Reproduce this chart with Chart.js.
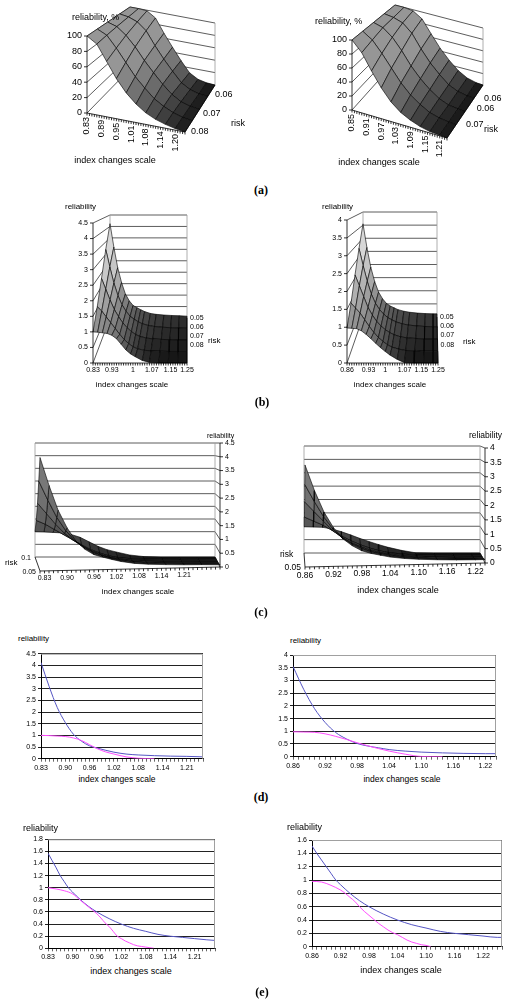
<!DOCTYPE html>
<html>
<head>
<meta charset="utf-8">
<title>reliability vs index changes scale</title>
<script src="https://cdn.jsdelivr.net/npm/chart.js@4.4.1/dist/chart.umd.min.js"></script>
<style>
  html, body { margin: 0; padding: 0; background: #fff; }
  body { position: relative; width: 505px; height: 1000px; overflow: hidden; font-family: "Liberation Sans", Arial, sans-serif; }
  canvas { position: absolute; }
  .t { position: absolute; white-space: nowrap; line-height: 1; color: #000; }
  .panel { position: absolute; font: bold 12px "Liberation Serif", "Times New Roman", serif; line-height: 1; transform: translate(-50%, -50%); }
</style>
</head>
<body>
<script>
const FONT = '"Liberation Sans", Arial, sans-serif';

// axis ticks / labels
const pctTicks = [0, 20, 40, 60, 80, 100];
const relTicks45 = [0, 0.5, 1, 1.5, 2, 2.5, 3, 3.5, 4, 4.5];
const relTicks4 = [0, 0.5, 1, 1.5, 2, 2.5, 3, 3.5, 4];
const aLeftX = ['0.83', '0.89', '0.95', '1.01', '1.08', '1.14', '1.20'];
const aRightX = ['0.85', '0.91', '0.97', '1.03', '1.09', '1.15', '1.21'];
const bLeftX = ['0.83', '0.93', '1', '1.07', '1.15', '1.25'];
const bRightX = ['0.86', '0.93', '1', '1.07', '1.15', '1.25'];
const leftX = ['0.83', '0.90', '0.96', '1.02', '1.08', '1.14', '1.21'];
const rightX = ['0.86', '0.92', '0.98', '1.04', '1.10', '1.16', '1.22'];

// (a) reliability, % - one row per risk level, columns = category index
const aLeftIdx = [0, 4, 8, 12, 16, 20, 24, 28, 32, 36, 40];
const aLeftRisk = [0.08, 0.074, 0.068, 0.061, 0.055];
const aLeftR1 = [100, 92, 72, 52, 36, 24, 15, 9, 5, 2, 0];
const aLeftR2 = [100, 94, 79, 62, 45, 32, 20, 12, 6, 2, 0];
const aLeftR3 = [100, 96, 86, 72, 55, 40, 26, 14, 6, 2, 0];
const aLeftR4 = [100, 98, 93, 82, 62, 44, 28, 13, 5, 1, 0];
const aLeftR5 = [100, 100, 99, 90, 68, 48, 29, 12, 4, 1, 0];

const aRightIdx = [0, 4, 8, 12, 16, 20, 24, 28, 32, 36, 39];
const aRightRisk = [0.075, 0.07, 0.065, 0.06, 0.055];
const aRightR1 = [100, 86, 64, 44, 28, 17, 10, 5, 2, 1, 0];
const aRightR2 = [100, 91, 75, 57, 39, 25, 15, 7, 3, 1, 0];
const aRightR3 = [100, 96, 85, 68, 48, 32, 19, 9, 3, 1, 0];
const aRightR4 = [100, 98, 93, 80, 58, 39, 24, 11, 4, 1, 0];
const aRightR5 = [100, 100, 98, 88, 66, 45, 28, 14, 5, 1, 0];

// reliability surfaces used in (b), (c) and (d)
const surfRisk = [0.05, 0.0625, 0.075, 0.0875, 0.1];
const surfLeftIdx = [0, 2, 4, 6, 8, 10, 12, 14, 16, 18, 21, 24, 28, 32, 36, 40];
const surfLeft050 = [4.12, 3.1, 2.2, 1.55, 1.05, 0.75, 0.55, 0.45, 0.36, 0.28, 0.2, 0.16, 0.13, 0.11, 0.1, 0.08];
const surfLeft0625 = [3.2, 2.5, 1.85, 1.35, 0.98, 0.72, 0.52, 0.4, 0.3, 0.22, 0.15, 0.11, 0.08, 0.06, 0.05, 0.04];
const surfLeft075 = [2.3, 1.9, 1.5, 1.15, 0.88, 0.65, 0.47, 0.33, 0.22, 0.15, 0.09, 0.06, 0.04, 0.03, 0.02, 0.02];
const surfLeft0875 = [1.55, 1.4, 1.2, 1.0, 0.8, 0.6, 0.42, 0.28, 0.17, 0.1, 0.05, 0.03, 0.02, 0.01, 0.01, 0.01];
const surfLeft100 = [1.0, 0.99, 0.97, 0.95, 0.89, 0.78, 0.6, 0.42, 0.29, 0.2, 0.08, 0.02, 0, 0, 0, 0];

const surfRightIdx = [0, 2, 4, 6, 8, 10, 12, 14, 16, 18, 21, 24, 28, 32, 36, 38];
const surfRight050 = [3.55, 2.65, 1.9, 1.35, 0.95, 0.7, 0.52, 0.42, 0.35, 0.28, 0.22, 0.18, 0.15, 0.13, 0.12, 0.12];
const surfRight0625 = [2.8, 2.2, 1.65, 1.2, 0.88, 0.66, 0.5, 0.38, 0.3, 0.23, 0.16, 0.12, 0.09, 0.07, 0.06, 0.06];
const surfRight075 = [2.1, 1.75, 1.4, 1.05, 0.8, 0.6, 0.45, 0.33, 0.24, 0.17, 0.1, 0.07, 0.05, 0.03, 0.03, 0.03];
const surfRight0875 = [1.45, 1.3, 1.15, 0.95, 0.75, 0.57, 0.42, 0.3, 0.2, 0.13, 0.07, 0.03, 0.02, 0.01, 0.01, 0.01];
const surfRight100 = [0.98, 0.97, 0.96, 0.9, 0.8, 0.68, 0.55, 0.43, 0.32, 0.22, 0.1, 0.01, 0, 0, 0, 0];

// (e) curves
const eLeftBlueIdx = [0, 1, 2, 3, 4, 5, 6, 8, 10, 12, 15, 18, 21, 24, 27, 30, 33, 36, 39, 41];
const eLeftBlue = [1.57, 1.45, 1.33, 1.2, 1.1, 1.0, 0.93, 0.8, 0.69, 0.6, 0.49, 0.4, 0.33, 0.28, 0.23, 0.2, 0.18, 0.16, 0.14, 0.13];
const eLeftPinkIdx = [0, 2, 4, 6, 8, 10, 12, 13, 14, 15, 16, 17, 18, 19, 20, 21, 22, 23, 24, 25, 26];
const eLeftPink = [1.0, 0.98, 0.95, 0.9, 0.79, 0.68, 0.57, 0.5, 0.42, 0.36, 0.28, 0.2, 0.16, 0.12, 0.09, 0.06, 0.04, 0.03, 0.02, 0.01, 0];
const eRightBlueIdx = [0, 1, 2, 3, 4, 5, 6, 8, 10, 12, 15, 18, 21, 24, 27, 30, 33, 36, 39, 40];
const eRightBlue = [1.51, 1.4, 1.3, 1.2, 1.1, 1.0, 0.93, 0.8, 0.69, 0.6, 0.49, 0.4, 0.33, 0.28, 0.23, 0.2, 0.18, 0.16, 0.14, 0.14];
const eRightPinkIdx = [0, 2, 4, 6, 7, 8, 9, 10, 11, 12, 13, 14, 15, 16, 17, 18, 19, 20, 21, 22, 23, 24, 25];
const eRightPink = [0.98, 0.97, 0.92, 0.85, 0.8, 0.74, 0.68, 0.6, 0.53, 0.47, 0.41, 0.35, 0.3, 0.25, 0.21, 0.18, 0.14, 0.1, 0.07, 0.05, 0.03, 0.02, 0];

Chart.defaults.font.family = FONT;
Chart.defaults.color = '#000';

function addCanvas(left, top, w, h) {
  const c = document.createElement('canvas');
  c.width = w; c.height = h;
  c.style.cssText = `left:${left}px;top:${top}px;width:${w}px;height:${h}px`;
  document.body.appendChild(c);
  return c;
}

function label(text, x, y, size, align) {
  const d = document.createElement('div');
  d.className = 't';
  d.textContent = text;
  d.style.left = x + 'px';
  d.style.top = y + 'px';
  d.style.fontSize = size + 'px';
  d.style.transform = align === 'center' ? 'translate(-50%,-50%)' : 'translateY(-50%)';
  document.body.appendChild(d);
}

function panel(text, x, y) {
  const d = document.createElement('div');
  d.className = 'panel';
  d.textContent = text;
  d.style.left = x + 'px';
  d.style.top = y + 'px';
  document.body.appendChild(d);
}

// darker where the surface is low (dense wires in the original), lighter on the slopes
function shade(v, zmax, top) {
  const g = Math.round(15 + (top - 15) * Math.min(1, 1.25 * Math.sqrt(Math.max(v, 0) / zmax)));
  return `rgb(${g},${g},${g})`;
}

const fmtNum = v => String(+(+v).toFixed(2));

// pseudo 3D surface: floor corners in page px, heights for front/back
function make3D(o) {
  const cv = addCanvas(o.left, o.top, o.w, o.h);
  const loc = p => ({x: p[0] - o.left, y: p[1] - o.top});
  const FL = loc(o.fl), FR = loc(o.fr), BL = loc(o.bl), BR = loc(o.br);
  const zmax = o.zTicks[o.zTicks.length - 1];
  const depth = rk => (rk - o.riskFront) / (o.riskBack - o.riskFront);
  const proj = (i, r, v) => {
    const u = i / o.n;
    const fx = FL.x + (FR.x - FL.x) * u, fy = FL.y + (FR.y - FL.y) * u;
    const bx = BL.x + (BR.x - BL.x) * u, by = BL.y + (BR.y - BL.y) * u;
    const h = o.hf + (o.hb - o.hf) * r;
    return {x: fx + (bx - fx) * r, y: fy + (by - fy) * r - v / zmax * h};
  };

  const rows = o.risks.map((rk, k) => ({r: depth(rk), vals: o.curves[k]})).sort((a, b) => a.r - b.r);
  const cols = [];
  for (let j = 0; j < o.idx.length - 1; j++) cols.push(j);
  if (o.nearRight) cols.reverse();

  // first dataset is painted last, so nearest quads go first
  const datasets = [];
  for (let k = 0; k < rows.length - 1; k++) {
    const A = rows[k], B = rows[k + 1];
    for (const j of cols) {
      const i0 = o.idx[j], i1 = o.idx[j + 1];
      const mean = (A.vals[j] + A.vals[j + 1] + B.vals[j] + B.vals[j + 1]) / 4;
      datasets.push({
        data: [proj(i0, A.r, A.vals[j]), proj(i1, A.r, A.vals[j + 1]), proj(i1, B.r, B.vals[j + 1]),
               proj(i0, B.r, B.vals[j]), proj(i0, A.r, A.vals[j])],
        fill: 'shape',
        backgroundColor: shade(mean, zmax, o.light),
        borderColor: '#000',
        borderWidth: 0.6,
        pointRadius: 0
      });
    }
  }

  const s = o.side === 'left' ? 0 : o.n;   // side wall + value axis
  const sd = o.side === 'left' ? o.n : 0;  // depth axis
  const out = o.side === 'left' ? -1 : 1;
  const riskText = o.riskText || o.riskLabels.map(String);

  const frame3d = {
    id: 'frame3d',
    beforeDatasetsDraw(c) {
      const ctx = c.ctx;
      const P = q => [c.scales.x.getPixelForValue(q.x), c.scales.y.getPixelForValue(q.y)];
      const seg = (a, b) => { ctx.moveTo(...P(a)); ctx.lineTo(...P(b)); };
      ctx.save();
      ctx.lineWidth = 0.8;
      ctx.strokeStyle = '#333';
      ctx.beginPath();
      o.zTicks.forEach(z => { seg(proj(0, 1, z), proj(o.n, 1, z)); seg(proj(s, 0, z), proj(s, 1, z)); });
      ctx.stroke();
      ctx.strokeStyle = '#999';
      ctx.beginPath();
      seg(proj(0, 1, 0), proj(0, 1, zmax));
      seg(proj(o.n, 1, 0), proj(o.n, 1, zmax));
      ctx.stroke();
      ctx.restore();
    },
    afterDatasetsDraw(c) {
      const ctx = c.ctx;
      const P = q => [c.scales.x.getPixelForValue(q.x), c.scales.y.getPixelForValue(q.y)];
      const seg = (a, b) => { ctx.moveTo(...P(a)); ctx.lineTo(...P(b)); };
      ctx.save();
      ctx.strokeStyle = '#000';
      ctx.lineWidth = 0.8;
      ctx.beginPath();
      seg(proj(0, 0, 0), proj(o.n, 0, 0));
      for (let i = 0; i <= o.n; i++) {
        const p = P(proj(i, 0, 0));
        ctx.moveTo(p[0], p[1]); ctx.lineTo(p[0], p[1] + 2.5);
      }
      seg(proj(sd, 0, 0), proj(sd, 1, 0));
      seg(proj(s, 0, 0), proj(s, 0, zmax));
      o.zTicks.forEach(z => {
        const p = P(proj(s, 0, z));
        ctx.moveTo(p[0], p[1]); ctx.lineTo(p[0] + 3 * out, p[1]);
      });
      ctx.stroke();

      ctx.fillStyle = '#000';
      ctx.font = o.fs + 'px ' + FONT;
      ctx.textBaseline = 'middle';
      ctx.textAlign = out < 0 ? 'right' : 'left';
      o.zTicks.forEach(z => {
        const p = P(proj(s, 0, z));
        ctx.fillText(String(z), p[0] + 5 * out, p[1]);
      });
      o.xLabels.forEach((t, k) => {
        const p = P(proj(o.xLabelIdx[k], 0, 0));
        if (o.rotX) {
          ctx.save();
          ctx.translate(p[0], p[1] + 4);
          ctx.rotate(-Math.PI / 2);
          ctx.textAlign = 'right';
          ctx.fillText(t, 0, 0);
          ctx.restore();
        } else {
          ctx.textAlign = 'center';
          ctx.textBaseline = 'top';
          ctx.fillText(t, p[0], p[1] + 4);
          ctx.textBaseline = 'middle';
        }
      });
      ctx.textAlign = out < 0 ? 'left' : 'right';
      o.riskLabels.forEach((rv, k) => {
        const p = P(proj(sd, depth(rv), 0));
        ctx.fillText(riskText[k], p[0] + o.riskDx, p[1] + o.riskDy);
      });
      ctx.restore();
    }
  };

  new Chart(cv, {
    type: 'line',
    data: {datasets},
    options: {
      responsive: false,
      animation: false,
      events: [],
      layout: {padding: 0},
      plugins: {legend: {display: false}, tooltip: {enabled: false}},
      scales: {
        x: {type: 'linear', display: false, min: 0, max: o.w},
        y: {type: 'linear', display: false, min: 0, max: o.h, reverse: true}
      }
    },
    plugins: [frame3d]
  });
}

const plotFrame = {
  id: 'plotFrame',
  afterDraw(c) {
    const a = c.chartArea, ctx = c.ctx;
    ctx.save();
    ctx.strokeStyle = '#a0a0a0';
    ctx.lineWidth = 1;
    ctx.beginPath();
    ctx.moveTo(a.left, a.top + 0.5);
    ctx.lineTo(a.right - 0.5, a.top + 0.5);
    ctx.lineTo(a.right - 0.5, a.bottom);
    ctx.stroke();
    ctx.restore();
  }
};

function make2D(o) {
  const cv = addCanvas(o.left, o.top, o.w, o.h);
  const [l, t, r, b] = o.area;
  const pts = (idx, vals) => idx.map((x, i) => ({x, y: vals[i]}));
  new Chart(cv, {
    type: 'line',
    data: {
      datasets: [
        {data: pts(o.pinkIdx, o.pink), borderColor: '#ff4dff', borderWidth: 1, cubicInterpolationMode: 'monotone', pointRadius: 0},
        {data: pts(o.blueIdx, o.blue), borderColor: '#5555c4', borderWidth: 1, cubicInterpolationMode: 'monotone', pointRadius: 0}
      ]
    },
    options: {
      responsive: false,
      animation: false,
      events: [],
      layout: {padding: {left: 0, top: t - o.top, right: o.left + o.w - r, bottom: 0}},
      plugins: {legend: {display: false}, tooltip: {enabled: false}},
      scales: {
        x: {
          type: 'linear', min: 0, max: o.xmax,
          afterBuildTicks: s => { s.ticks = []; for (let i = 0; i <= o.xmax; i++) s.ticks.push({value: i}); },
          afterFit: s => { s.height = o.top + o.h - b; },
          ticks: {
            autoSkip: false, maxRotation: 0, padding: 2, color: '#000', font: {size: 7, family: FONT},
            callback: v => (v % 6 === 0 && o.xLabels[v / 6]) ? o.xLabels[v / 6] : ''
          },
          grid: {drawOnChartArea: false, tickLength: 3, color: '#000', lineWidth: 0.6},
          border: {color: '#000', width: 1}
        },
        y: {
          min: 0, max: o.ymax,
          afterFit: s => { s.width = l - o.left; },
          ticks: {stepSize: o.ystep, padding: 2, color: '#000', font: {size: 7, family: FONT}, callback: v => fmtNum(v)},
          grid: {color: '#222', lineWidth: 1, tickLength: 3},
          border: {color: '#000', width: 1}
        }
      }
    },
    plugins: [plotFrame]
  });
}

// pink series stops where it reaches zero
const toZero = vals => { const k = vals.indexOf(0); return k < 0 ? vals.length : k + 1; };

// ---- (a) ----
make3D({
  left: 30, top: 0, w: 205, h: 172,
  fl: [87, 113], fr: [185, 132], bl: [130, 69], br: [215, 85], hf: 77, hb: 62, n: 40,
  zTicks: pctTicks, side: 'left', nearRight: true, light: 150,
  idx: aLeftIdx, risks: aLeftRisk, curves: [aLeftR1, aLeftR2, aLeftR3, aLeftR4, aLeftR5],
  riskFront: 0.08, riskBack: 0.055, riskLabels: [0.06, 0.07, 0.08], riskDx: 6, riskDy: 0,
  xLabels: aLeftX, xLabelIdx: [0, 6, 12, 18, 24, 30, 36], rotX: true, fs: 9
});
make3D({
  left: 300, top: 0, w: 205, h: 172,
  fl: [352, 110], fr: [447, 138], bl: [395, 62], br: [483, 85], hf: 70, hb: 57, n: 39,
  zTicks: pctTicks, side: 'left', nearRight: true, light: 150,
  idx: aRightIdx, risks: aRightRisk, curves: [aRightR1, aRightR2, aRightR3, aRightR4, aRightR5],
  riskFront: 0.075, riskBack: 0.055, riskLabels: [0.06, 0.064, 0.07], riskText: ['0.06', '0.06', '0.07'],
  riskDx: 10, riskDy: 0,
  xLabels: aRightX, xLabelIdx: [0, 6, 12, 18, 24, 30, 36], rotX: true, fs: 9
});
label('reliability, %', 72, 17, 9);
label('index changes scale', 115, 160, 9, 'center');
label('risk', 231, 123, 9);
label('reliability, %', 315, 21, 9);
label('index changes scale', 379, 162, 9, 'center');
label('risk', 484, 129, 9);
panel('(a)', 261, 190);

// ---- (b) ----
make3D({
  left: 60, top: 200, w: 175, h: 185,
  fl: [93, 363], fr: [187, 363], bl: [110, 318], br: [187, 318], hf: 140, hb: 103, n: 40,
  zTicks: relTicks45, side: 'left', nearRight: true, light: 215,
  idx: surfLeftIdx, risks: surfRisk, curves: [surfLeft050, surfLeft0625, surfLeft075, surfLeft0875, surfLeft100],
  riskFront: 0.1, riskBack: 0.05, riskLabels: [0.05, 0.06, 0.07, 0.08], riskDx: 3, riskDy: 0,
  xLabels: bLeftX, xLabelIdx: [0, 8, 17, 25, 33, 40], rotX: false, fs: 7
});
make3D({
  left: 300, top: 200, w: 185, h: 185,
  fl: [347, 363], fr: [438, 363], bl: [363, 317], br: [437, 317], hf: 143, hb: 105, n: 38,
  zTicks: relTicks4, side: 'left', nearRight: true, light: 215,
  idx: surfRightIdx, risks: surfRisk, curves: [surfRight050, surfRight0625, surfRight075, surfRight0875, surfRight100],
  riskFront: 0.1, riskBack: 0.05, riskLabels: [0.05, 0.06, 0.07, 0.08], riskDx: 3, riskDy: 0,
  xLabels: bRightX, xLabelIdx: [0, 9, 16, 24, 31, 38], rotX: false, fs: 7
});
label('reliability', 65, 207, 8);
label('index changes scale', 132, 385, 8, 'center');
label('risk', 208, 341, 8);
label('reliability', 322, 207, 8);
label('index changes scale', 390, 385, 8, 'center');
label('risk', 463, 342, 8);
panel('(b)', 262, 402);

// ---- (c) ----
make3D({
  left: 0, top: 425, w: 250, h: 165,
  fl: [40, 571], fr: [220, 567], bl: [35, 557], br: [215, 557], hf: 124, hb: 114, n: 40,
  zTicks: relTicks45, side: 'right', nearRight: false, light: 120,
  idx: surfLeftIdx, risks: surfRisk, curves: [surfLeft050, surfLeft0625, surfLeft075, surfLeft0875, surfLeft100],
  riskFront: 0.05, riskBack: 0.1, riskLabels: [0.05, 0.1], riskDx: -4, riskDy: 1,
  xLabels: leftX, xLabelIdx: [1, 6, 12, 17, 22, 27, 32], rotX: false, fs: 7
});
make3D({
  left: 255, top: 425, w: 250, h: 165,
  fl: [305, 567], fr: [485, 563], bl: [304, 553], br: [480, 553], hf: 115, hb: 107, n: 38,
  zTicks: relTicks4, side: 'right', nearRight: false, light: 120,
  idx: surfRightIdx, risks: surfRisk, curves: [surfRight050, surfRight0625, surfRight075, surfRight0875, surfRight100],
  riskFront: 0.05, riskBack: 0.1, riskLabels: [0.05], riskDx: -4, riskDy: 1,
  xLabels: rightX, xLabelIdx: [0, 6, 12, 18, 24, 30, 36], rotX: false, fs: 8.5
});
label('reliability', 207, 435, 7);
label('index changes scale', 138, 592, 8, 'center');
label('risk', 5, 563, 8);
label('reliability', 469, 435, 8.5);
label('index changes scale', 398, 590, 9, 'center');
label('risk', 280, 554, 8.5);
panel('(c)', 261, 612);

// ---- (d) ----
make2D({
  left: 0, top: 645, w: 215, h: 128, area: [41, 653.7, 203, 758.7],
  xmax: 40, ymax: 4.5, ystep: 0.5, xLabels: leftX,
  blueIdx: surfLeftIdx, blue: surfLeft050,
  pinkIdx: surfLeftIdx.slice(0, toZero(surfLeft100)), pink: surfLeft100.slice(0, toZero(surfLeft100))
});
make2D({
  left: 255, top: 645, w: 250, h: 128, area: [293, 655, 496, 756.7],
  xmax: 38, ymax: 4, ystep: 0.5, xLabels: rightX,
  blueIdx: surfRightIdx, blue: surfRight050,
  pinkIdx: surfRightIdx.slice(0, toZero(surfRight100)), pink: surfRight100.slice(0, toZero(surfRight100))
});
label('reliability', 18, 639, 8);
label('index changes scale', 117, 779, 8.5, 'center');
label('reliability', 290, 641, 8);
label('index changes scale', 402, 779, 8.5, 'center');
panel('(d)', 261, 797);

// ---- (e) ----
make2D({
  left: 0, top: 830, w: 225, h: 135, area: [48, 839.3, 215, 948.3],
  xmax: 41, ymax: 1.8, ystep: 0.2, xLabels: leftX,
  blueIdx: eLeftBlueIdx, blue: eLeftBlue, pinkIdx: eLeftPinkIdx, pink: eLeftPink
});
make2D({
  left: 270, top: 830, w: 235, h: 135, area: [312, 840, 502, 946.7],
  xmax: 40, ymax: 1.6, ystep: 0.2, xLabels: rightX,
  blueIdx: eRightBlueIdx, blue: eRightBlue, pinkIdx: eRightPinkIdx, pink: eRightPink
});
label('reliability', 23, 828, 9);
label('index changes scale', 131, 971, 9, 'center');
label('reliability', 287, 827, 9);
label('index changes scale', 401, 970, 9, 'center');
panel('(e)', 262, 992);
</script>
</body>
</html>
